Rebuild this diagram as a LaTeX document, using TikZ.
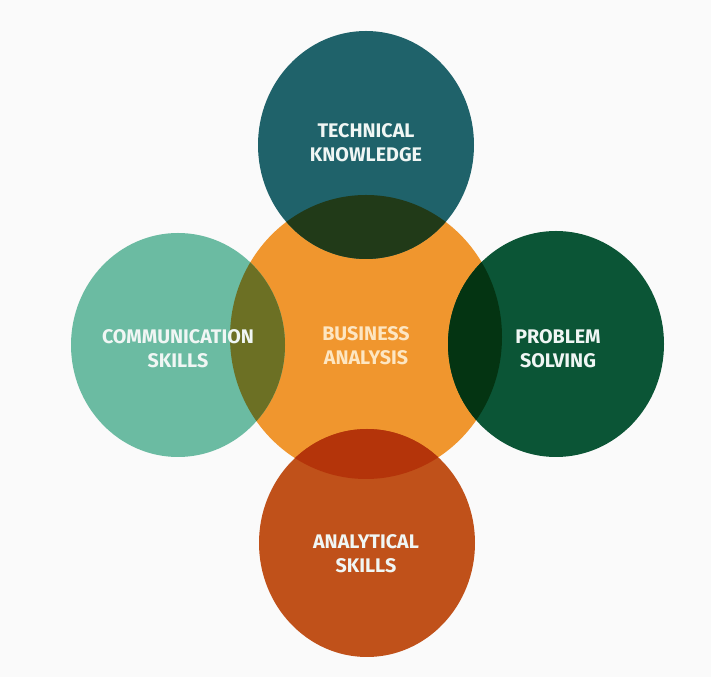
\documentclass[tikz,border=0pt]{standalone}
\usepackage{fontspec}
\setmainfont{Fira Sans}

\definecolor{paper}{RGB}{250,250,250}
\definecolor{bizorange}{RGB}{240,150,46}
\definecolor{techteal}{RGB}{31,98,106}
\definecolor{commmint}{RGB}{107,187,162}
\definecolor{probgreen}{RGB}{11,85,54}
\definecolor{analrust}{RGB}{192,81,26}
\definecolor{techmix}{RGB}{33,58,24}
\definecolor{commmix}{RGB}{108,112,36}
\definecolor{probmix}{RGB}{4,52,18}
\definecolor{analmix}{RGB}{180,52,10}
\definecolor{labelwhite}{RGB}{240,246,244}
\definecolor{labelcream}{RGB}{253,230,194}

\tikzset{
	skill/.style = {font=\bfseries\fontsize{14}{17}\selectfont, align=center, text=labelwhite},
}

\begin{document}
\begin{tikzpicture}[x=0.025cm,y=0.025cm]

	\fill [paper] (0,0) rectangle (711,677);
	\useasboundingbox (0,0) rectangle (711,677);
	\def\core{(366,340) ellipse [x radius=136, y radius=142]}
	\fill [bizorange] \core;
	\foreach \cx/\cy/\ax/\ay/\col/\mix in {366/532/108/114/techteal/techmix,
		178/332/107/112/commmint/commmix,
		556/333/108/113/probgreen/probmix,
		367/134/108/114/analrust/analmix}
	{
		\fill [\col] (\cx,\cy) ellipse [x radius=\ax, y radius=\ay];
		\begin{scope}
			\clip \core;
			\fill [\mix] (\cx,\cy) ellipse [x radius=\ax, y radius=\ay];
		\end{scope}
	}
	\node [skill] (tech) at (366,534) {TECHNICAL\\KNOWLEDGE};
	\node [skill] (comm) at (178,328) {COMMUNICATION\\SKILLS};
	\node [skill] (prob) at (558,328) {PROBLEM\\SOLVING};
	\node [skill, text=labelcream] (biz) at (366,331) {BUSINESS\\ANALYSIS};
	\node [skill] (anal) at (366,123) {ANALYTICAL\\SKILLS};

\end{tikzpicture}
\end{document}
